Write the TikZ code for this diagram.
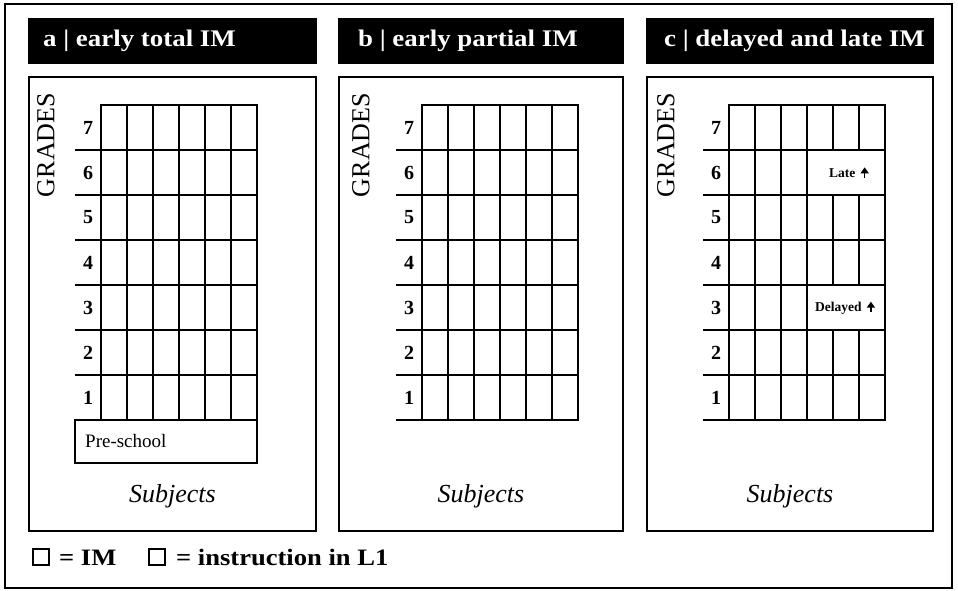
\documentclass[tikz,border=0pt]{standalone}
\usepackage{fontspec}
\usetikzlibrary{arrows.meta}
\setmainfont{Liberation Serif}
\newfontfamily\titlefont[FakeStretch=1.13]{Liberation Serif}
\begin{document}
\begin{tikzpicture}[x=1pt,y=-1pt,
  outerframe/.style={draw=black, line width=2.6pt},
  panelbox/.style={draw=black, line width=1.3pt},
  titlebox/.style={fill=black, draw=black},
  titletext/.style={text=white, anchor=west, inner sep=0pt, font=\titlefont\bfseries\fontsize{23.8}{24}\selectfont},
  gridline/.style={draw=black, line width=1.6pt},
  gradelabel/.style={font=\fontsize{26}{26}\selectfont, rotate=90, inner sep=0pt},
  numlabel/.style={font=\bfseries\fontsize{20}{20}\selectfont, inner sep=0pt},
  subjlabel/.style={font=\itshape\fontsize{26}{26}\selectfont, inner sep=0pt},
  smalllabel/.style={font=\bfseries\fontsize{13.5}{13.5}\selectfont, inner sep=0pt, anchor=west},
  uparrow/.style={line width=1.6pt, -{Triangle[width=8pt,length=6pt]}},
  preschool/.style={font=\fontsize{19}{19}\selectfont, inner sep=0pt, anchor=west},
  legsquare/.style={draw=black, line width=1.4pt, minimum size=16pt, inner sep=0pt},
  legtext/.style={font=\titlefont\bfseries\fontsize{23.5}{24}\selectfont, inner sep=0pt, anchor=base west}
]
\useasboundingbox (0,0) rectangle (958,591);
\fill[white] (0,0) rectangle (958,591);
\draw[outerframe] (5,4) rectangle (952,588);

\foreach \p/\bl/\br/\gl/\gx/\toff/\ttl in {
  a/29/316/101/46/14/{a | early total IM},
  b/339/623/422/361/19/{b | early partial IM},
  c/647/933/729/666/17/{c | delayed and late IM}}{
  % title
  \fill[titlebox] (\bl-1,18) rectangle (\br,63);
  \node[titletext] (\p-title) at (\bl+\toff,41) {\ttl};
  % panel box
  \draw[panelbox] (\bl,77) rectangle (\br,531);
  % grades label
  \node[gradelabel] (\p-grades) at (\gx,145) {GRADES};
  % vertical grid lines
  \foreach \k in {0,...,6}{
    \draw[gridline] (\gl+26*\k,105) -- (\gl+26*\k,420);
  }
  % top line
  \draw[gridline] (\gl-0.8,105) -- (\gl+156.8,105);
  % row separators and bottom
  \foreach \j in {1,...,7}{
    \draw[gridline] (\gl-26,105+45*\j) -- (\gl+156.8,105+45*\j);
  }
  % row numbers
  \foreach \r in {1,...,7}{
    \node[numlabel] (\p-n\r) at (\gl-13,442.5-45*\r) {\r};
  }
  % subjects
  \node[subjlabel] (\p-subj) at (\bl/2+\br/2,496) {Subjects};
}

% panel a: pre-school
\draw[gridline] (75,420) rectangle (257,463);
\node[preschool] (a-pre) at (85,441) {Pre-school};

% panel c: late and delayed
\fill[white] (808.6,150.9) rectangle (884.1,194.1);
\fill[white] (808.6,285.9) rectangle (884.1,329.1);
\node[smalllabel] (c-late) at (829,173) {Late};
\draw[uparrow] ([xshift=9pt,yshift=0pt]c-late.south east) -- ([xshift=9pt,yshift=1pt]c-late.north east);
\node[smalllabel] (c-delayed) at (815,308) {Delayed};
\draw[uparrow] ([xshift=9pt,yshift=2pt]c-delayed.south east) -- ([xshift=9pt,yshift=0pt]c-delayed.north east);

% legend
\node[legsquare] (leg-im) at (41,557) {};
\node[legtext] (leg-im-t) at (59,565) {= IM};
\node[legsquare] (leg-l1) at (157,557) {};
\node[legtext] (leg-l1-t) at (176,565) {= instruction in L1};
\end{tikzpicture}
\end{document}
